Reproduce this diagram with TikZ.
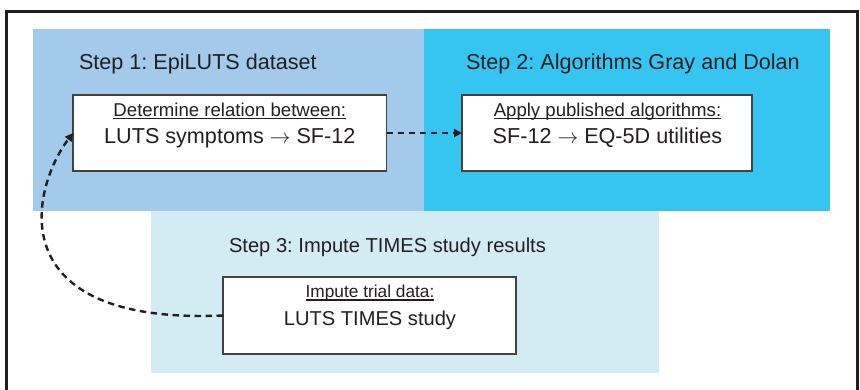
\documentclass[tikz,border=0pt]{standalone}
\usepackage{fontspec}
\setmainfont{Liberation Sans}
\usetikzlibrary{arrows.meta}
\frenchspacing

\definecolor{stepone}{HTML}{A3C9EB}
\definecolor{steptwo}{HTML}{36C5F1}
\definecolor{stepthree}{HTML}{D3ECF4}
\definecolor{ink}{HTML}{231F20}

% underlined heading with the rule at a fixed depth below the baseline
\newcommand\ulhead[2]{\setbox0\hbox{#2}\rlap{\rule[#1]{\wd0}{1.3pt}}\box0}
% thin long arrow between terms
\newcommand\maparrow{\ensuremath{\rightarrow}}

\tikzset{
  stepbox/.style={draw=ink!85, line width=1.3pt, fill=white, inner sep=0pt, outer sep=0pt},
  label/.style={text=ink, inner sep=0pt, outer sep=0pt, anchor=base},
  title/.style={text=ink, inner sep=0pt, outer sep=0pt, anchor=base west},
  conn/.style={draw=ink, line width=2.4pt, dash pattern=on 6.5pt off 4.5pt,
    -{Triangle[length=8pt,width=8pt]}},
}

\begin{document}
\begin{tikzpicture}[x=1pt, y=-1pt]
  \clip (0,0) rectangle (860,389);

  % coloured step regions
  \fill[stepone]   (33,29)  rectangle (424,211);
  \fill[steptwo]   (424,29) rectangle (830,211);
  \fill[stepthree] (151,211) rectangle (659,373);

  % outer frame
  \draw[ink, line width=3pt] (6.5,420) -- (6.5,11.5) -- (857.5,11.5) -- (857.5,420);

  % step titles
  \node[title, font=\fontsize{21.6}{24}\selectfont] (t1) at (79,69) {Step 1: EpiLUTS dataset};
  \node[title, font=\fontsize{21.6}{24}\selectfont] (t2) at (466,69) {Step 2: Algorithms Gray and Dolan};
  \node[title, font=\fontsize{20.15}{23}\selectfont] (t3) at (229,252) {Step 3: Impute TIMES study results};

  % boxes
  \node[stepbox, minimum width=313.5pt, minimum height=76pt] (b1) at (229.8,133) {};
  \node[stepbox, minimum width=290pt,   minimum height=76pt] (b2) at (607,133) {};
  \node[stepbox, minimum width=293pt,   minimum height=77pt] (b3) at (369.5,315.5) {};

  % box texts
  \node[label, font=\fontsize{18.6}{20}\selectfont] (h1) at (229.8,116) {\ulhead{-3.4pt}{Determine relation between:}};
  \node[label, font=\fontsize{21.6}{24}\selectfont] (m1) at (229.8,143.3) {LUTS symptoms \maparrow{} SF-12};
  \node[label, font=\fontsize{18.6}{20}\selectfont] (h2) at (607.5,116) {\ulhead{-3.4pt}{Apply published algorithms:}};
  \node[label, font=\fontsize{21.6}{24}\selectfont] (m2) at (607.5,143.3) {SF-12 \maparrow{} EQ-5D utilities};
  \node[label, font=\fontsize{17.3}{19}\selectfont] (h3) at (370,297.7) {\ulhead{-2.8pt}{Impute trial data:}};
  \node[label, font=\fontsize{20.1}{22}\selectfont] (m3) at (370,325) {LUTS TIMES study};

  % connectors
  \draw[conn] (b1.east) -- (b2.west);
  \draw[conn] (b3.west) .. controls (0,325) and (30,190) .. (b1.west);
\end{tikzpicture}
\end{document}
